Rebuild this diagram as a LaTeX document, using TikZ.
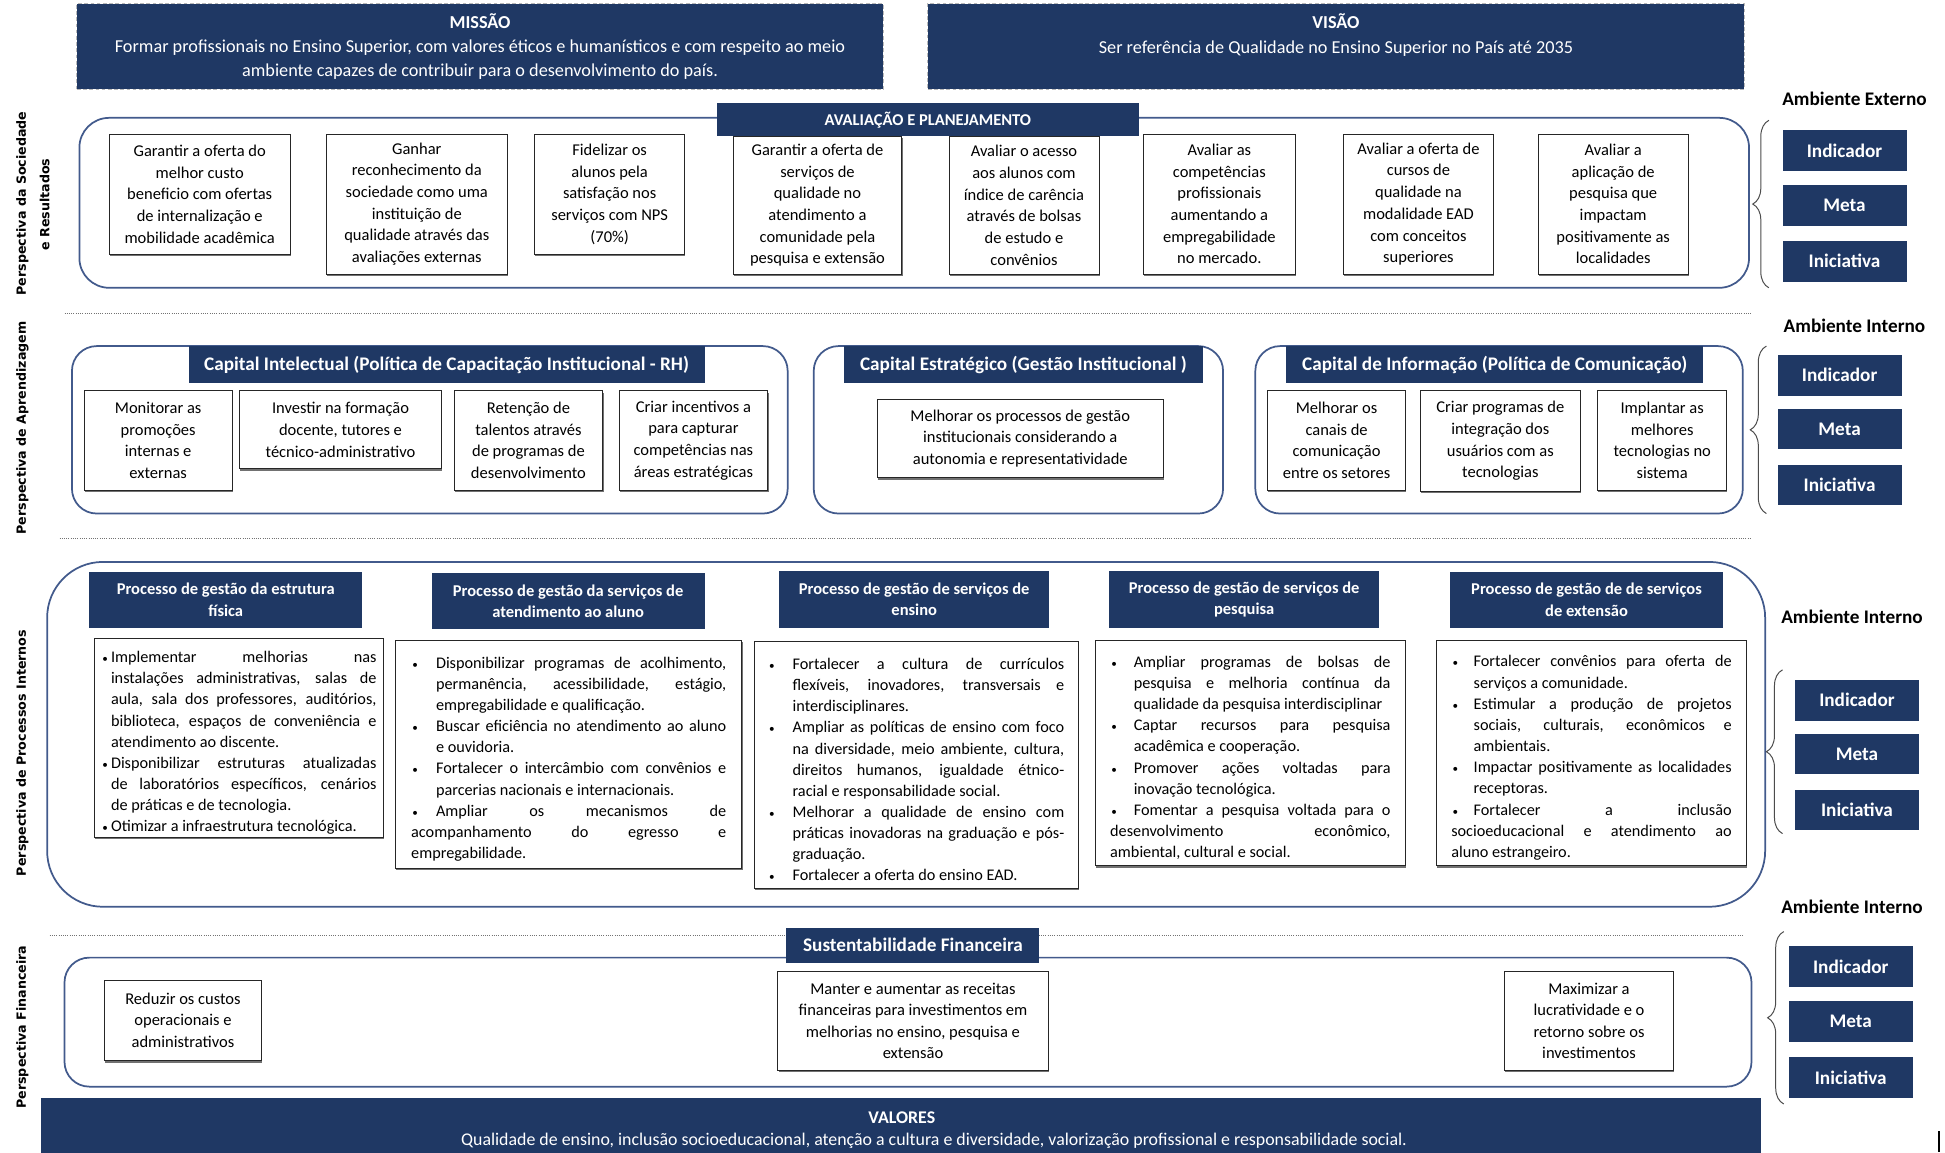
\documentclass[tikz,border=0pt]{standalone}
\usepackage{fontspec}
\setmainfont{Carlito}
\newfontfamily\vlabfont{DejaVu Sans}
\usetikzlibrary{shadows,decorations.pathreplacing}
\definecolor{navy}{RGB}{31,56,100}
\definecolor{contc}{RGB}{66,90,140}
\tolerance=10000 \hbadness=10000 \vbadness=10000 \hfuzz=20pt \hyphenpenalty=10000
\newcommand{\mybox}[7]{\node[#6,minimum width={(#4-#2)*1pt},minimum height={(#5-#3)*1pt}] (#1) at ({(#2+#4)/2},{(#3+#5)/2}) {#7};}
\newcommand{\bitem}[2]{\par\noindent\hangindent=#1\relax\hangafter=1\relax\makebox[#1][l]{\hspace{1pt}{\fontsize{9}{9}\selectfont •}}#2}
\tikzset{
  navybox/.style={fill=navy, draw=none, text=white, align=center, inner sep=0pt, outer sep=0pt, font=\bfseries\fontsize{13.3}{17}\selectfont},
  bigtitle/.style={navybox, font=\bfseries\fontsize{15.5}{18}\selectfont},
  kbox/.style={navybox, font=\bfseries\fontsize{15.5}{18}\selectfont},
  wbox/.style={draw=black!85, line width=0.7pt, fill=white, align=center, inner sep=0pt, font=\fontsize{13.3}{17.5}\selectfont, drop shadow={shadow xshift=0.6pt, shadow yshift=-1.6pt, fill=black!65, opacity=0.85}},
  bul/.style={align=justify, font=\fontsize{13.1}{17.05}\selectfont},
  cont/.style={draw=contc, line width=1.4pt, rounded corners=#1, inner sep=0pt},
  cont/.default=20pt,
  sep/.style={densely dotted, black!55, line width=0.8pt},
  amb/.style={font=\bfseries\fontsize{15.5}{18}\selectfont, inner sep=0pt},
  vlab/.style={rotate=90, font=\vlabfont\bfseries\fontsize{10.2}{12}\selectfont, inner sep=0pt},
  brc/.style={decorate, decoration={brace, amplitude=#1}, draw=black!70, line width=0.8pt},
  brc/.default=12pt,
  hdr/.style={fill=navy, draw=gray!55, densely dashed, line width=0.8pt, text=white, align=center, inner sep=0pt, font=\fontsize{14.7}{19.5}\selectfont},
  plain/.style={inner sep=0pt, align=center}
}
\begin{document}
\begin{tikzpicture}[x=1pt,y=-1pt]
\fill[white] (0,0) rectangle (1568,929);
\useasboundingbox (0,0) rectangle (1568,929);

% ---------- header ----------
\mybox{mis}{62}{3}{712}{72}{hdr}{\textbf{MISSÃO}\\Formar profissionais no Ensino Superior, com valores éticos e humanísticos e com respeito ao meio\\ambiente capazes de contribuir para o desenvolvimento do país.}
\mybox{vis}{748}{3}{1406}{72}{hdr}{}
\node[plain, text=white, font=\fontsize{14.7}{20}\selectfont] (vist) at (1077,28) {\textbf{VISÃO}\\Ser referência de Qualidade no Ensino Superior no País até 2035};

% ---------- separators ----------
\coordinate (s1a) at (52,253); \coordinate (s1b) at (1412,253);
\coordinate (s2a) at (48,434); \coordinate (s2b) at (1412,434);
\coordinate (s3a) at (40,754); \coordinate (s3b) at (1405,754);
\draw[sep] (s1a) -- (s1b);
\draw[sep] (s2a) -- (s2b);
\draw[sep] (s3a) -- (s3b);

% ---------- vertical labels ----------
\node[vlab] (v1a) at (18,164) {Perspectiva da Sociedade};
\node[vlab] (v1b) at (36,165) {e Resultados};
\node[vlab] (v2) at (18,345) {Perspectiva de Aprendizagem};
\node[vlab] (v3) at (18,607) {Perspectiva de Processos Internos};
\node[vlab] (v4) at (18,828) {Perspectiva Financeira};

% ---------- section 1 ----------
\mybox{c1}{64}{95}{1410}{232}{cont=24pt}{}
\mybox{avt}{578}{83}{918}{110}{navybox}{AVALIAÇÃO E PLANEJAMENTO}
\mybox{sa}{88}{108}{234}{205}{wbox}{Garantir a oferta do\\melhor custo\\beneficio com ofertas\\de internalização e\\mobilidade acadêmica}
\mybox{sb}{263}{108}{409}{221}{wbox}{Ganhar\\reconhecimento da\\sociedade como uma\\instituição de\\qualidade através das\\avaliações externas}
\mybox{sc}{431}{108}{552}{205}{wbox}{Fidelizar os\\alunos pela\\satisfação nos\\serviços com NPS\\(70\%)}
\mybox{sd}{591}{110}{727}{221}{wbox}{Garantir a oferta de\\serviços de\\qualidade no\\atendimento a\\comunidade pela\\pesquisa e extensão}
\mybox{se}{765}{110}{886}{221}{wbox}{Avaliar o acesso\\aos alunos com\\índice de carência\\através de bolsas\\de estudo e\\convênios}
\mybox{sf}{922}{108}{1044}{221}{wbox}{Avaliar as\\competências\\profissionais\\aumentando a\\empregabilidade\\no mercado.}
\mybox{sg}{1083}{108}{1204}{221}{wbox}{Avaliar a oferta de\\cursos de\\qualidade na\\modalidade EAD\\com conceitos\\superiores}
\mybox{sh}{1240}{108}{1361}{221}{wbox}{Avaliar a\\aplicação de\\pesquisa que\\impactam\\positivamente as\\localidades}

% ---------- section 2 ----------
\mybox{ca}{58}{279}{635}{414}{cont=20pt}{}
\mybox{cb}{656}{279}{986}{414}{cont=20pt}{}
\mybox{cc}{1012}{279}{1405}{414}{cont=20pt}{}
\mybox{cat}{152}{279}{568}{309}{bigtitle}{Capital Intelectual (Política de Capacitação Institucional - RH)}
\mybox{cbt}{680}{279}{970}{309}{bigtitle}{Capital Estratégico (Gestão Institucional )}
\mybox{cct}{1037}{279}{1373}{309}{bigtitle}{Capital de Informação (Política de Comunicação)}
\mybox{a1}{68}{315}{187}{395}{wbox}{Monitorar as\\promoções\\internas e\\externas}
\mybox{a2}{193}{315}{356}{378}{wbox}{Investir na formação\\docente, tutores e\\técnico-administrativo}
\mybox{a3}{366}{315}{486}{395}{wbox}{Retenção de\\talentos através\\de programas de\\desenvolvimento}
\mybox{a4}{499}{315}{619}{395}{wbox}{Criar incentivos a\\para capturar\\competências nas\\áreas estratégicas}
\mybox{b1}{707}{322}{938}{385}{wbox}{Melhorar os processos de gestão\\institucionais considerando a\\autonomia e representatividade}
\mybox{i1}{1022}{315}{1133}{395}{wbox}{Melhorar os\\canais de\\comunicação\\entre os setores}
\mybox{i2}{1145}{315}{1274}{396}{wbox}{Criar programas de\\integração dos\\usuários com as\\tecnologias}
\mybox{i3}{1288}{315}{1392}{395}{wbox}{Implantar as\\melhores\\tecnologias no\\sistema}

% ---------- section 3 ----------
\mybox{cp}{38}{453}{1423}{731}{cont=45pt}{}
\mybox{pt1}{72}{461}{292}{506}{navybox}{Processo de gestão da estrutura\\física}
\mybox{pt2}{348}{462}{568}{507}{navybox}{Processo de gestão da serviços de\\atendimento ao aluno}
\mybox{pt3}{628}{460}{846}{506}{navybox}{Processo de gestão de serviços de\\ensino}
\mybox{pt4}{894}{460}{1112}{506}{navybox}{Processo de gestão de serviços de\\pesquisa}
\mybox{pt5}{1169}{461}{1389}{506}{navybox}{Processo de gestão de de serviços\\de extensão}
\mybox{p1}{76}{515}{309}{675}{wbox, bul, text width=222pt}{%
\bitem{8pt}{Implementar melhorias nas\linebreak instalações administrativas, salas de\linebreak aula, sala dos professores, auditórios,\linebreak biblioteca, espaços de conveniência e\linebreak atendimento ao discente.}%
\bitem{8pt}{Disponibilizar estruturas atualizadas\linebreak de laboratórios específicos, cenários\linebreak de práticas e de tecnologia.}%
\bitem{8pt}{Otimizar a infraestrutura tecnológica.}}
\mybox{p2}{319}{516}{598}{700}{wbox, bul, text width=254pt}{%
\bitem{20pt}{Disponibilizar programas de acolhimento,\linebreak permanência, acessibilidade, estágio,\linebreak empregabilidade e qualificação.}%
\bitem{20pt}{Buscar eficiência no atendimento ao aluno\linebreak e ouvidoria.}%
\bitem{20pt}{Fortalecer o intercâmbio com convênios e\linebreak parcerias nacionais e internacionais.}%
\bitem{20pt}{Ampliar os mecanismos de\linebreak acompanhamento do egresso e\linebreak empregabilidade.}}
\mybox{p3}{608}{517}{869}{716}{wbox, bul, text width=239pt}{%
\bitem{20pt}{Fortalecer a cultura de currículos\linebreak flexíveis, inovadores, transversais e\linebreak interdisciplinares.}%
\bitem{20pt}{Ampliar as políticas de ensino com foco\linebreak na diversidade, meio ambiente, cultura,\linebreak direitos humanos, igualdade étnico-\linebreak racial e responsabilidade social.}%
\bitem{20pt}{Melhorar a qualidade de ensino com\linebreak práticas inovadoras na graduação e pós-\linebreak graduação.}%
\bitem{20pt}{Fortalecer a oferta do ensino EAD.}}
\mybox{p4}{883}{516}{1133}{698}{wbox, bul, text width=226pt}{%
\bitem{19pt}{Ampliar programas de bolsas de\linebreak pesquisa e melhoria contínua da\linebreak qualidade da pesquisa interdisciplinar}%
\bitem{19pt}{Captar recursos para pesquisa\linebreak acadêmica e cooperação.}%
\bitem{19pt}{Promover ações voltadas para\linebreak inovação tecnológica.}%
\bitem{19pt}{Fomentar a pesquisa voltada para o\linebreak desenvolvimento econômico,\linebreak ambiental, cultural e social.}}
\mybox{p5}{1158}{516}{1408}{698}{wbox, bul, text width=226pt}{%
\bitem{18pt}{Fortalecer convênios para oferta de\linebreak serviços a comunidade.}%
\bitem{18pt}{Estimular a produção de projetos\linebreak sociais, culturais, econômicos e\linebreak ambientais.}%
\bitem{18pt}{Impactar positivamente as localidades\linebreak receptoras.}%
\bitem{18pt}{Fortalecer a inclusão\linebreak socioeducacional e atendimento ao\linebreak aluno estrangeiro.}}

% ---------- section 4 ----------
\mybox{cf}{52}{772}{1412}{876}{cont=20pt}{}
\mybox{sft}{634}{748}{838}{776}{bigtitle}{Sustentabilidade Financeira}
\mybox{f1}{84}{790}{211}{855}{wbox}{Reduzir os custos\\operacionais e\\administrativos}
\mybox{f2}{627}{783}{845}{863}{wbox, font=\fontsize{13.3}{17.3}\selectfont}{Manter e aumentar as receitas\\financeiras para investimentos em\\melhorias no ensino, pesquisa e\\extensão}
\mybox{f3}{1213}{783}{1349}{863}{wbox, font=\fontsize{13.3}{17.3}\selectfont}{Maximizar a\\lucratividade e o\\retorno sobre os\\investimentos}

% ---------- valores ----------
\mybox{val}{33}{885}{1420}{935}{fill=navy, draw=none}{}
\node[plain, text=white, font=\bfseries\fontsize{14.4}{17}\selectfont] (valt) at (727,901) {VALORES};
\node[plain, text=white, font=\fontsize{14.4}{17}\selectfont] (valx) at (753,920) {Qualidade de ensino, inclusão socioeducacional, atenção a cultura e diversidade, valorização profissional e responsabilidade social.};

% ---------- right side ----------
\node[amb] (ae1) at (1495,80) {Ambiente Externo};
\coordinate (b1s) at (1426,232); \coordinate (b1e) at (1426,97);
\draw[brc=13pt] (b1s) -- (b1e);
\mybox{k1a}{1437}{105}{1537}{138}{kbox}{Indicador}
\mybox{k1b}{1437}{149}{1537}{182}{kbox}{Meta}
\mybox{k1c}{1437}{194}{1537}{227}{kbox}{Iniciativa}

\node[amb] (ae2) at (1495,263) {Ambiente Interno};
\coordinate (b2s) at (1424,414); \coordinate (b2e) at (1424,279);
\draw[brc=13pt] (b2s) -- (b2e);
\mybox{k2a}{1433}{286}{1533}{319}{kbox}{Indicador}
\mybox{k2b}{1433}{330}{1533}{362}{kbox}{Meta}
\mybox{k2c}{1433}{375}{1533}{407}{kbox}{Iniciativa}

\node[amb] (ae3) at (1493,497) {Ambiente Interno};
\coordinate (b3s) at (1437,672); \coordinate (b3e) at (1437,540);
\draw[brc=13pt] (b3s) -- (b3e);
\mybox{k3a}{1447}{548}{1547}{581}{kbox}{Indicador}
\mybox{k3b}{1447}{592}{1547}{624}{kbox}{Meta}
\mybox{k3c}{1447}{637}{1547}{669}{kbox}{Iniciativa}

\node[amb] (ae4) at (1493,731) {Ambiente Interno};
\coordinate (b4s) at (1438,890); \coordinate (b4e) at (1438,751);
\draw[brc=13pt] (b4s) -- (b4e);
\mybox{k4a}{1442}{763}{1542}{796}{kbox}{Indicador}
\mybox{k4b}{1442}{807}{1542}{840}{kbox}{Meta}
\mybox{k4c}{1442}{852}{1542}{885}{kbox}{Iniciativa}

\coordinate (mk1) at (1563,912); \coordinate (mk2) at (1563,929);
\draw[black, line width=1.2pt] (mk1) -- (mk2);
\end{tikzpicture}
\end{document}
